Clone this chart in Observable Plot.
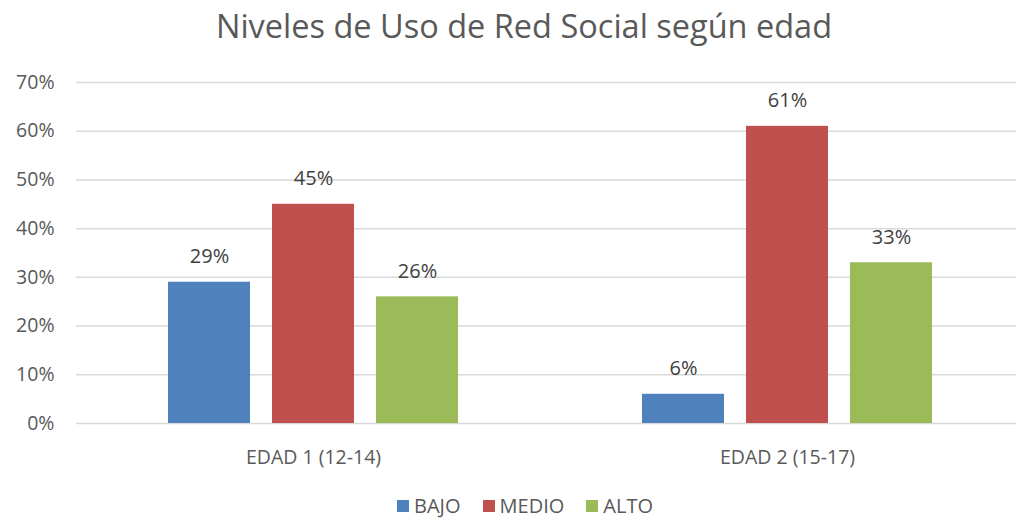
<!DOCTYPE html>
<html>
<head>
<meta charset="utf-8">
<script src="https://cdn.jsdelivr.net/npm/d3@7"></script>
<script src="https://cdn.jsdelivr.net/npm/@observablehq/plot@0.6"></script>
<style>
  body { margin: 0; background: #fff; font-family: "Open Sans", sans-serif; }
  #wrap { position: relative; width: 1016px; height: 518px; overflow: hidden; }
  #title { position: absolute; top: 3px; left: 0; width: 1048px; text-align: center; font-size: 32.5px; color: #595959; }
  #legend { position: absolute; top: 495px; left: 0; width: 1050px; display: flex; justify-content: center; gap: 22px; font-size: 20px; line-height: 22px; color: #595959; }
  #legend span.item { display: inline-flex; align-items: center; gap: 5px; }
  #legend span.sw { width: 12px; height: 12px; display: inline-block; }
  #chart { position: absolute; top: 0; left: 0; }
</style>
</head>
<body>
<div id="wrap">
  <div id="title">Niveles de Uso de Red Social según edad</div>
  <div id="chart"></div>
  <div id="legend"></div>
</div>
<script>
const groups = ["EDAD 1 (12-14)", "EDAD 2 (15-17)"];
const levels = ["BAJO", "MEDIO", "ALTO"];
const colors = ["#4F81BD", "#C0504D", "#9BBB59"];
const bajo = [0.29, 0.06];
const medio = [0.45, 0.61];
const alto = [0.26, 0.33];
const yTicks = [0, 0.1, 0.2, 0.3, 0.4, 0.5, 0.6, 0.7];

const series = [bajo, medio, alto];
const data = [];
groups.forEach((g, gi) => levels.forEach((l, li) => data.push({group: g, level: l, value: series[li][gi]})));

const chart = Plot.plot({
  width: 1016,
  height: 470,
  marginLeft: 76,
  marginRight: -8,
  marginTop: 82,
  marginBottom: 47,
  style: {fontFamily: "'Open Sans', sans-serif", color: "#595959", fontSize: "19px", overflow: "visible"},
  fx: {domain: groups, padding: 0, label: null, axis: null},
  x: {domain: levels, paddingInner: 0.21, paddingOuter: 0.865, axis: null},
  y: {domain: [0, 0.7], label: null, axis: null},
  color: {domain: levels, range: colors},
  marks: [
    Plot.ruleY(yTicks, {stroke: "#d9d9d9", strokeWidth: 1.5, facet: "exclude"}),
    Plot.axisY(yTicks, {tickFormat: d3.format(".0%"), tickSize: 0, tickPadding: 22, fontSize: 19.5, fill: "#595959"}),
    Plot.axisFx({anchor: "bottom", tickSize: 0, tickPadding: 27, fontSize: 19.5, fill: "#595959", label: null}),
    Plot.barY(data, {fx: "group", x: "level", y: "value", fill: "level"}),
    Plot.text(data, {fx: "group", x: "level", y: "value", text: d => d3.format(".0%")(d.value), dy: -19, lineAnchor: "bottom", fontSize: 20, fill: "#404040"})
  ]
});
document.getElementById("chart").appendChild(chart);

const legend = document.getElementById("legend");
levels.forEach((l, i) => {
  const item = document.createElement("span");
  item.className = "item";
  item.innerHTML = `<span class="sw" style="background:${colors[i]}"></span>${l}`;
  legend.appendChild(item);
});
</script>
</body>
</html>
